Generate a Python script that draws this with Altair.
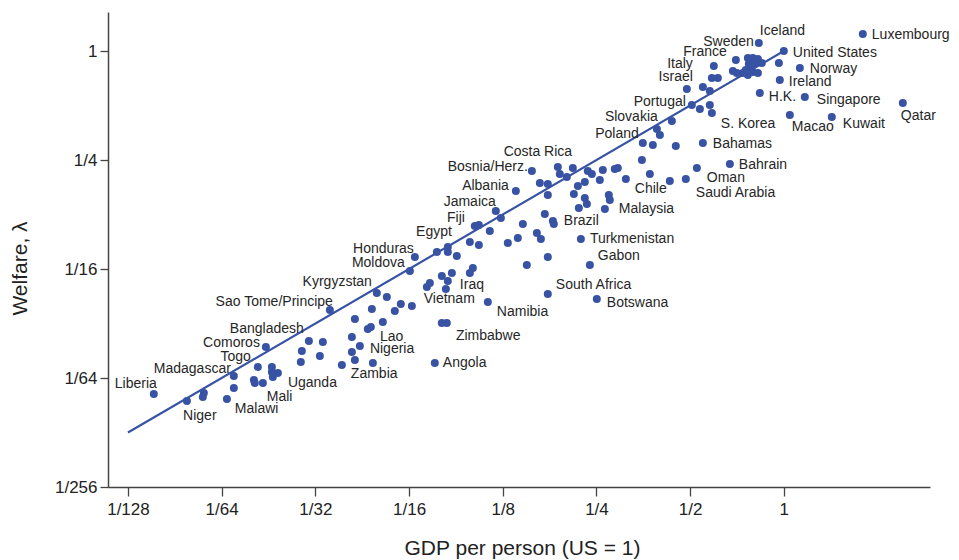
import altair as alt
import pandas as pd

# GDP per person (US = 1) and welfare, both as log2 exponents
gdp_log2 = [
    0.843, -0.267, 0.000, -0.512, -0.384, -0.331, -0.277, -0.235, -0.374, -0.299,
    -0.352, -0.406, -0.331, -0.438, -0.384, -0.277, -0.544, -0.502, -0.053, 0.171,
    -0.747, -0.768, -0.704, -0.043, -1.035, -0.864, -0.790, -0.256, 0.224, 1.270,
    -0.982, -0.896, -0.790, -0.768, 0.064, 0.512, -1.195, -1.355, -1.323, -1.505,
    -1.398, -1.153, -0.864, -1.515, -0.576, -0.928, -1.430, -1.217, -1.046, -1.686,
    -1.932, -1.804, -1.772, -2.092, -2.049, -1.964, -2.124, -2.198, -2.241, -2.124,
    -2.102, -2.188, -1.868, -1.857, -1.910, -2.412, -2.252, -2.391, -2.316, -2.689,
    -2.604, -2.519, -2.519, -2.860, -2.551, -2.465, -2.455, -2.785, -3.020, -3.074,
    -3.298, -3.255, -3.138, -3.351, -3.255, -3.703, -3.586, -3.586, -3.490, -2.636,
    -2.593, -2.839, -2.946, -2.166, -2.519, -2.743, -2.070, -3.938, -3.991, -3.319,
    -3.351, -3.543, -3.650, -3.586, -3.778, -3.810, -3.607, -2.519, -1.996, -3.159,
    -3.650, -3.597, -4.344, -4.237, -4.088, -3.970, -4.152, -4.397, -4.845, -4.578,
    -4.280, -4.408, -4.440, -4.610, -4.525, -4.610, -4.578, -4.386, -3.725, -5.069,
    -4.920, -5.144, -4.952, -5.155, -4.717, -5.528, -5.614, -5.464, -5.464, -5.400,
    -5.454, -5.656, -5.560, -5.646, -5.870, -5.870, -6.190, -6.201, -5.944, -6.371,
    -6.724,
]
welfare_log2 = [
    0.312, 0.147, 0.000, -0.165, -0.128, -0.128, -0.147, -0.220, -0.239, -0.220,
    -0.294, -0.349, -0.385, -0.404, -0.440, -0.404, -0.367, -0.404, -0.220, -0.312,
    -0.275, -0.495, -0.495, -0.532, -0.697, -0.661, -0.734, -0.771, -0.844, -0.954,
    -0.991, -1.064, -0.991, -1.138, -1.174, -1.211, -1.284, -1.431, -1.541, -1.688,
    -1.725, -1.743, -1.688, -2.000, -2.073, -2.147, -2.257, -2.385, -2.349, -2.349,
    -2.183, -2.165, -2.147, -2.202, -2.257, -2.367, -2.404, -2.477, -2.624, -2.697,
    -2.807, -2.881, -2.642, -2.734, -2.899, -2.128, -2.147, -2.257, -2.312, -2.202,
    -2.422, -2.440, -2.642, -2.569, -2.991, -3.119, -3.174, -3.174, -3.064, -2.936,
    -3.211, -3.193, -3.303, -3.505, -3.560, -3.688, -3.596, -3.688, -3.761, -3.339,
    -3.450, -3.431, -3.523, -3.450, -3.780, -3.927, -3.927, -3.780, -4.037, -3.982,
    -4.073, -4.073, -4.128, -4.220, -4.257, -4.330, -4.367, -4.459, -4.550, -4.606,
    -4.991, -4.991, -4.440, -4.514, -4.642, -4.679, -4.771, -4.734, -4.752, -4.917,
    -4.972, -5.064, -5.101, -5.248, -5.413, -5.523, -5.670, -5.725, -5.725, -5.321,
    -5.339, -5.505, -5.596, -5.706, -5.761, -5.431, -5.798, -5.798, -5.890, -5.908,
    -5.982, -6.037, -6.092, -6.092, -5.963, -6.183, -6.275, -6.349, -6.385, -6.422,
    -6.294,
]

# fitted line (welfare = GDP), log2 exponents
line_gdp = [-7.0, 0.0]
line_welfare = [-7.0, 0.0]

# country name annotations (log2 positions) and their text alignment
label_names = [
    "Luxembourg", "Iceland", "Sweden", "United States", "France", "Norway", "Italy",
    "Israel", "Ireland", "H.K.", "Singapore", "Portugal", "Qatar", "Slovakia",
    "S. Korea", "Macao", "Kuwait", "Poland", "Bahamas", "Bahrain", "Oman", "Chile",
    "Saudi Arabia", "Costa Rica", "Bosnia/Herz.", "Albania", "Jamaica", "Fiji",
    "Egypt", "Brazil", "Malaysia", "Turkmenistan", "Gabon", "Honduras", "Moldova",
    "Iraq", "Vietnam", "South Africa", "Botswana", "Namibia", "Zimbabwe",
    "Kyrgyzstan", "Sao Tome/Principe", "Bangladesh", "Comoros", "Togo",
    "Madagascar", "Liberia", "Niger", "Malawi", "Mali", "Uganda", "Lao", "Nigeria",
    "Zambia", "Angola",
]
label_gdp = [
    0.939, -0.256, -0.320, 0.096, -0.608, 0.277, -0.971, -0.971, 0.053, -0.160,
    0.352, -1.046, 1.249, -1.345, -0.672, 0.085, 0.630, -1.548, -0.758, -0.480,
    -0.822, -1.590, -0.939, -2.625, -2.732, -2.935, -3.074, -3.404, -3.543, -2.348,
    -1.761, -2.070, -1.985, -3.949, -4.045, -3.458, -3.298, -2.433, -1.889, -3.063,
    -3.500, -4.397, -4.813, -5.123, -5.592, -5.688, -5.902, -6.916, -6.233, -5.859,
    -5.518, -5.293, -4.311, -4.418, -4.621, -3.639,
]
label_welfare = [
    0.299, 0.367, 0.160, -0.031, -0.013, -0.330, -0.244, -0.483, -0.569, -0.844,
    -0.894, -0.930, -1.187, -1.217, -1.339, -1.400, -1.345, -1.523, -1.706, -2.092,
    -2.336, -2.532, -2.600, -1.848, -2.123, -2.477, -2.765, -3.070, -3.316, -3.114,
    -2.899, -3.455, -3.761, -3.633, -3.895, -4.288, -4.545, -4.294, -4.629, -4.794,
    -5.229, -4.244, -4.600, -5.101, -5.352, -5.620, -5.835, -6.110, -6.692, -6.569,
    -6.343, -6.086, -5.242, -5.468, -5.932, -5.719,
]
label_align = [
    "left", "left", "right", "left", "right", "left", "right", "right", "left", "left",
    "left", "right", "left", "right", "left", "left", "left", "right", "left", "left",
    "left", "left", "left", "center", "right", "right", "right", "right", "right", "left",
    "left", "left", "left", "right", "right", "left", "right", "left", "left", "left",
    "left", "right", "right", "right", "right", "right", "right", "center", "center", "left",
    "left", "left", "left", "left", "left", "left",
]

x_ticks = [-7, -6, -5, -4, -3, -2, -1, 0]
y_ticks = [-8, -6, -4, -2, 0]

pts = pd.DataFrame({"gdp": gdp_log2, "welfare": welfare_log2})
fit = pd.DataFrame({"gdp": line_gdp, "welfare": line_welfare})
labs = pd.DataFrame({"name": label_names, "gdp": label_gdp,
                     "welfare": label_welfare, "align": label_align})

BLUE = "#3853a4"
FONT = "Liberation Sans"
frac = "datum.value == 0 ? '1' : '1/' + pow(2, -datum.value)"

xs = alt.Scale(domain=[-7.213, 1.560], nice=False, zero=False)
ys = alt.Scale(domain=[-8.0, 0.716], nice=False, zero=False)

x_enc = alt.X("gdp:Q", scale=xs, axis=alt.Axis(
    title="GDP per person (US = 1)", values=x_ticks, labelExpr=frac,
    grid=False, tickSize=9, labelPadding=5, titleX=414, titleY=61,
    titleBaseline="middle", titleAnchor="start", titleAlign="center"))
y_enc = alt.Y("welfare:Q", scale=ys, axis=alt.Axis(
    title="Welfare, λ", values=y_ticks, labelExpr=frac, grid=False,
    tickSize=8, labelPadding=3, titleX=-88, titleY=256,
    titleBaseline="middle", titleAlign="center", titleAngle=-90))

points = alt.Chart(pts).mark_circle(size=64, opacity=1, color=BLUE).encode(x=x_enc, y=y_enc)
line = alt.Chart(fit).mark_line(color=BLUE, strokeWidth=2.2).encode(x="gdp:Q", y="welfare:Q")

texts = []
for a in ["left", "right", "center"]:
    texts.append(
        alt.Chart(labs[labs["align"] == a]).mark_text(
            align=a, baseline="middle", font=FONT, fontSize=14, color="#262626"
        ).encode(x="gdp:Q", y="welfare:Q", text="name:N")
    )

chart = alt.layer(line, points, *texts).properties(
    width=822, height=475,
    padding={"left": 100, "top": 4, "right": 21, "bottom": 76},
    autosize=alt.AutoSizeParams(type="none"),
).configure_view(stroke=None).configure_axis(
    labelFont=FONT, titleFont=FONT, labelFontSize=17, titleFontSize=21,
    labelColor="#222222", titleColor="#222222", domainColor="#444444",
    tickColor="#444444", domainWidth=1.5, tickWidth=1.3, titleFontWeight="normal",
)

chart.save("out.html", embed_options={"renderer": "svg", "actions": False})
